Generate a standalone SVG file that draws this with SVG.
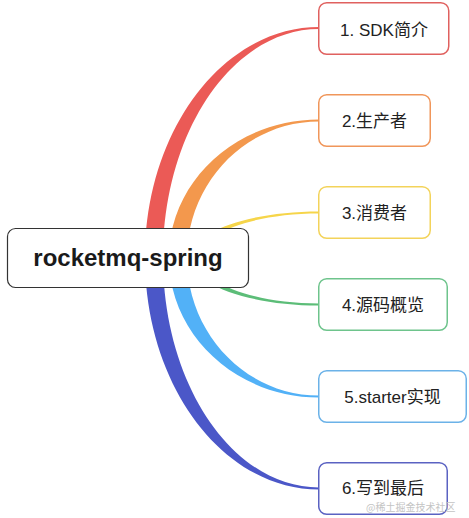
<svg xmlns="http://www.w3.org/2000/svg" width="469" height="518" viewBox="0 0 469 518">
<style>
.node rect{fill:#fff;stroke-width:1.5}
.node text{font-family:"Liberation Sans","Noto Sans CJK SC",sans-serif;font-size:17px;fill:#222;text-anchor:middle}
.root rect{fill:#fff;stroke:#333;stroke-width:1.2}
.root text{font-family:"Liberation Sans","Noto Sans CJK SC",sans-serif;font-size:24px;font-weight:bold;fill:#1a1a1a;text-anchor:middle}
.wm{font-family:"Noto Sans CJK SC",sans-serif;font-size:10px;fill:#c4c4c4}
</style>
<rect width="469" height="518" fill="#fff"/>
<g id="connectors">
<path fill="#EB5A56" d="M145,258 C145,130.5 223,27 319,27 L319,29 C233,29 163,131.6 163,258 Z"/>
<path fill="#F3984D" d="M169,258 C169,181.3 236.2,119.5 319,119.5 L319,121.5 C246.1,121.5 187,182.4 187,258 Z"/>
<path fill="#F6D54A" d="M190,258 C190,232.1 248.3,211.5 319,211.5 L319,213.5 C252.8,213.5 200,233.2 200,258 Z"/>
<path fill="#5CBD78" d="M190,258 C190,283.9 248.3,305.5 319,305.5 L319,303.5 C252.8,303.5 200,282.8 200,258 Z"/>
<path fill="#52B1F7" d="M169,258 C169,334.7 236.2,397.5 319,397.5 L319,395.5 C246.1,395.5 187,333.6 187,258 Z"/>
<path fill="#4B57C8" d="M145,258 C145,385.5 223,489.5 319,489.5 L319,487.5 C233,487.5 163,384.4 163,258 Z"/>
</g>
<g id="root" class="root">
<rect x="7.5" y="228.5" width="241" height="59" rx="8"/>
<text x="128" y="266">rocketmq-spring</text>
</g>
<g id="n1" class="node">
<rect x="318.75" y="2.75" width="130" height="51.5" rx="8" stroke="#E0615F"/>
<text x="384" y="36">1. SDK简介</text>
</g>
<g id="n2" class="node">
<rect x="318.75" y="94.75" width="111.5" height="51.5" rx="8" stroke="#F0965A"/>
<text x="374.5" y="127">2.生产者</text>
</g>
<g id="n3" class="node">
<rect x="318.75" y="186.75" width="111.5" height="51.5" rx="8" stroke="#F3D35A"/>
<text x="374.5" y="219">3.消费者</text>
</g>
<g id="n4" class="node">
<rect x="318.75" y="278.75" width="128.5" height="51.5" rx="8" stroke="#6EC48C"/>
<text x="383" y="311">4.源码概览</text>
</g>
<g id="n5" class="node">
<rect x="318.75" y="370.75" width="147.5" height="51.5" rx="8" stroke="#6BB2E8"/>
<text x="392.5" y="403">5.starter实现</text>
</g>
<g id="n6" class="node">
<rect x="318.75" y="462.75" width="128.5" height="51.5" rx="8" stroke="#5A62C2"/>
<text x="383" y="494">6.写到最后</text>
</g>
<text class="wm" x="366" y="511">@稀土掘金技术社区</text>
</svg>
